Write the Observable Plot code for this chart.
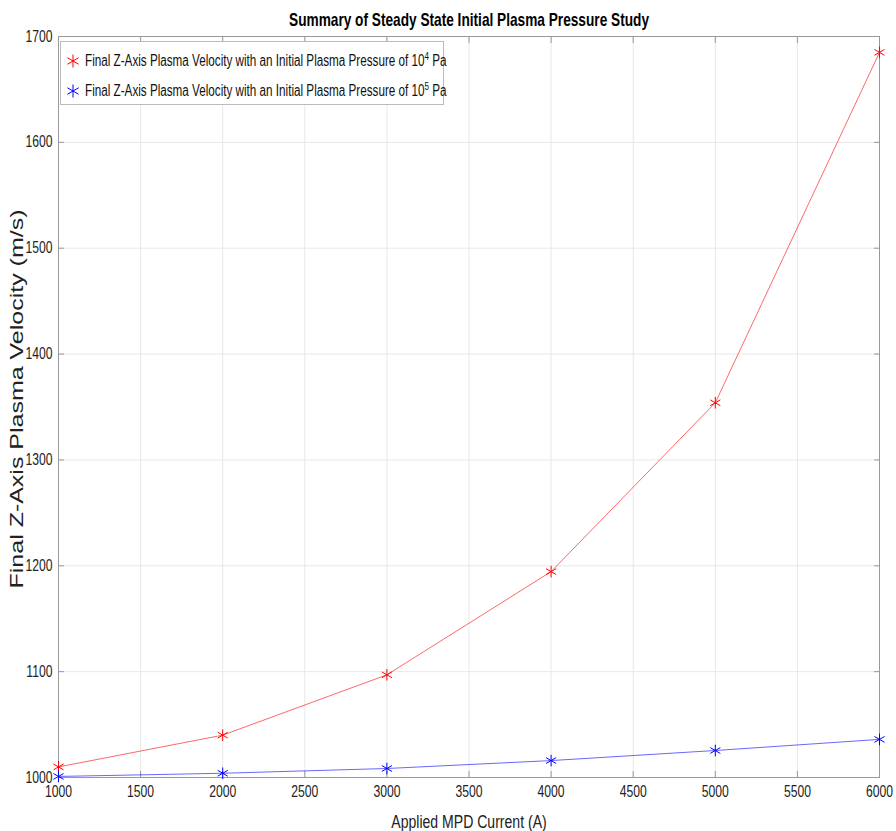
<!DOCTYPE html>
<html>
<head>
<meta charset="utf-8">
<script src="https://cdn.jsdelivr.net/npm/d3@7"></script>
<script src="https://cdn.jsdelivr.net/npm/@observablehq/plot@0.6"></script>
<style>
html,body{margin:0;padding:0;background:#fff;}
#wrap{position:relative;width:896px;height:831px;}
#legend{position:absolute;left:60px;top:41px;width:382px;height:62px;border:1px solid #bbb;background:#fff;
  font-family:"Liberation Sans",Arial,sans-serif;font-size:16px;color:#111;}
#legend .row{position:absolute;left:4px;white-space:nowrap;height:20px;}
#legend svg{position:absolute;left:0;top:2px;}
#legend .txt{position:absolute;left:20px;top:0;transform:scaleX(0.73);transform-origin:0 50%;line-height:20px;}
#legend sup{font-size:11px;line-height:0;}
</style>
</head>
<body>
<div id="wrap"></div>
<script>
const currents = [1000, 2000, 3000, 4000, 5000, 6000];
const velocity1e4 = [1010, 1040, 1097, 1194.5, 1354, 1685];
const velocity1e5 = [1001, 1004, 1008.5, 1016, 1025.5, 1036];
const xTicks = [1000, 1500, 2000, 2500, 3000, 3500, 4000, 4500, 5000, 5500, 6000];
const yTicks = [1000, 1100, 1200, 1300, 1400, 1500, 1600, 1700];
const seriesNames = ["Final Z-Axis Plasma Velocity with an Initial Plasma Pressure of 10^4 Pa",
                     "Final Z-Axis Plasma Velocity with an Initial Plasma Pressure of 10^5 Pa"];
const seriesColors = ["#ff0000", "#0000ff"];

const rows = [];
currents.forEach((c, i) => rows.push({s: 0, x: c, y: velocity1e4[i]}));
currents.forEach((c, i) => rows.push({s: 1, x: c, y: velocity1e5[i]}));
const r0 = rows.filter(d => d.s === 0), r1 = rows.filter(d => d.s === 1);

const font = "'Liberation Sans',Arial,sans-serif";

const chart = Plot.plot({
  width: 896,
  height: 831,
  marginTop: 36,
  marginBottom: 54,
  marginLeft: 58,
  marginRight: 17,
  style: {fontFamily: font, fontSize: "16px", color: "#222", background: "#fff"},
  x: {domain: [1000, 6000], ticks: xTicks},
  y: {domain: [1000, 1700], ticks: yTicks},
  marks: [
    Plot.gridX(xTicks, {stroke: "#e8e8e8", strokeOpacity: 1}),
    Plot.gridY(yTicks, {stroke: "#e8e8e8", strokeOpacity: 1}),
    Plot.frame({stroke: "#999"}),
    Plot.axisX(xTicks, {anchor: "bottom", tickSize: -6, tickPadding: 14, stroke: "#999", fill: "#222", fontSize: 16, tickFormat: "d", label: null}),
    Plot.axisX(xTicks, {anchor: "top", tickSize: -6, stroke: "#999", text: null, label: null}),
    Plot.axisY(yTicks, {anchor: "left", tickSize: -6, tickPadding: 12, stroke: "#999", fill: "#222", fontSize: 16, tickFormat: "d", label: null}),
    Plot.axisY(yTicks, {anchor: "right", tickSize: -6, stroke: "#999", text: null, label: null}),
    Plot.line(r0, {x: "x", y: "y", stroke: seriesColors[0], strokeWidth: 0.8, strokeOpacity: 0.75}),
    Plot.line(r1, {x: "x", y: "y", stroke: seriesColors[1], strokeWidth: 0.8, strokeOpacity: 0.75}),
    Plot.dot(r0, {x: "x", y: "y", symbol: "asterisk", r: 5.5, stroke: seriesColors[0], strokeWidth: 1}),
    Plot.dot(r1, {x: "x", y: "y", symbol: "asterisk", r: 5.5, stroke: seriesColors[1], strokeWidth: 1}),
    Plot.text(["Summary of Steady State Initial Plasma Pressure Study"], {frameAnchor: "top", lineAnchor: "middle", dy: -16, fontWeight: "bold", fontSize: 18, fill: "#000"}),
    Plot.text(["Applied MPD Current (A)"], {frameAnchor: "bottom", lineAnchor: "middle", dy: 45, fontSize: 18.5, fill: "#222"}),
    Plot.text(["Final Z-Axis Plasma Velocity (m/s)"], {frameAnchor: "left", textAnchor: "middle", lineAnchor: "middle", dx: -41, dy: -8, rotate: -90, fontSize: 25, fill: "#222"})
  ]
});

const wrap = document.getElementById("wrap");
wrap.appendChild(chart);

// condense glyphs horizontally (reference is horizontally squeezed)
const SX = 0.76;
chart.querySelectorAll("text").forEach(t => {
  const tr = t.getAttribute("transform") || "";
  const x = parseFloat(t.getAttribute("x")) || 0;
  if (/rotate\(-90\)/.test(tr)) {
    t.setAttribute("transform", tr + " scale(1,0.72)");
  } else {
    t.setAttribute("transform", tr + ` translate(${x},0) scale(${SX},1) translate(${-x},0)`);
  }
});

const leg = document.createElement("div");
leg.id = "legend";
seriesNames.forEach((name, i) => {
  const row = document.createElement("div");
  row.className = "row";
  row.style.top = (i === 0 ? 9 : 39) + "px";
  const s = 6.5, c = seriesColors[i];
  row.innerHTML = `<svg width="16" height="16" viewBox="-8 -8 16 16"><g stroke="${c}" stroke-width="1">
    <line x1="0" y1="${-s}" x2="0" y2="${s}"/><line x1="${-s*0.87}" y1="${-s/2}" x2="${s*0.87}" y2="${s/2}"/>
    <line x1="${-s*0.87}" y1="${s/2}" x2="${s*0.87}" y2="${-s/2}"/></g></svg>`;
  const [base, rest] = name.split("^");
  const exp = rest.split(" ")[0];
  const tail = rest.slice(exp.length);
  const t = document.createElement("span");
  t.className = "txt";
  t.innerHTML = base + "<sup>" + exp + "</sup>" + tail;
  row.appendChild(t);
  leg.appendChild(row);
});
wrap.appendChild(leg);
</script>
</body>
</html>
